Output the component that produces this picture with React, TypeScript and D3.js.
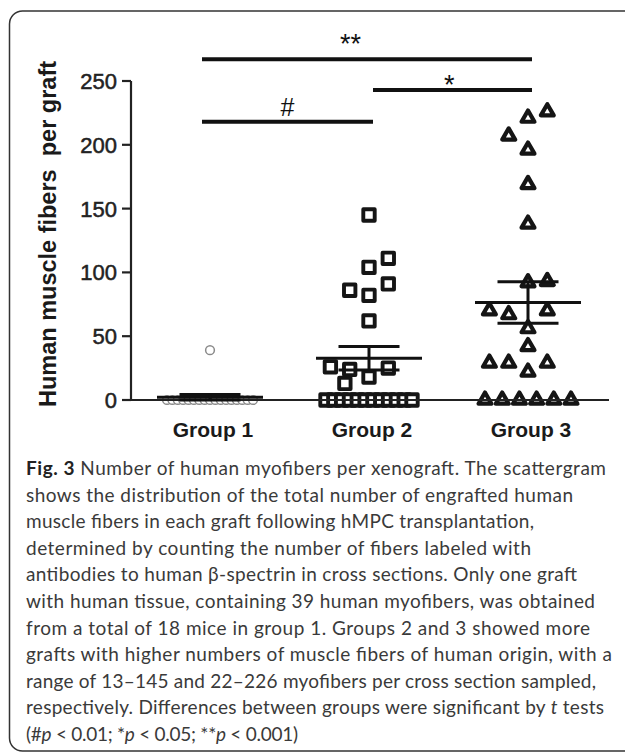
import React from 'react';
import * as d3 from 'd3';

const groups = ['Group 1', 'Group 2', 'Group 3'];
const yTicks = [0, 50, 100, 150, 200, 250];

// values per graft (zeros listed explicitly)
const group1Values = [39, 0, 0, 0, 0, 0, 0, 0, 0, 0, 0, 0, 0, 0, 0, 0, 0, 0];
const group2Values = [145, 111, 104, 91, 86, 82, 62, 26, 24, 25, 18, 13, 0, 0, 0, 0, 0, 0, 0, 0, 0, 0, 0, 0];
const group3Values = [226, 221, 207, 196, 169, 138, 92, 93, 70, 67, 70, 56, 42, 29, 29, 29, 22, 0, 0, 0, 0, 0, 0];

// jitter slot (column index in the scattergram) of each non-zero point
const group1Slots = [0];
const group2Slots = [0, 1, 0, 1, -1, 0, 0, -2, -1, 1, 0, -1.25];
const group3Slots = [1, 0, -1, 0, 0, 0, 0, 1, -2, -1, 1, 0, 0, -2, -1, 1, 0];

// significance brackets
const sigLabels = ['#', '*', '**'];
const sigFrom = [0, 1, 0];
const sigTo = [1, 2, 2];
const sigLevel = [218, 243, 267];
const sigLabelLevel = [230, 252, 284.5];
const sigLabelAt = [0.5, 0.48, 0.45];

const captionLines: { t: string; b?: boolean; i?: boolean }[][] = [
  [{ t: 'Fig. 3', b: true }, { t: ' Number of human myofibers per xenograft. The scattergram' }],
  [{ t: 'shows the distribution of the total number of engrafted human' }],
  [{ t: 'muscle fibers in each graft following hMPC transplantation,' }],
  [{ t: 'determined by counting the number of fibers labeled with' }],
  [{ t: 'antibodies to human \u03b2-spectrin in cross sections. Only one graft' }],
  [{ t: 'with human tissue, containing 39 human myofibers, was obtained' }],
  [{ t: 'from a total of 18 mice in group 1. Groups 2 and 3 showed more' }],
  [{ t: 'grafts with higher numbers of muscle fibers of human origin, with a' }],
  [{ t: 'range of 13\u2013145 and 22\u2013226 myofibers per cross section sampled,' }],
  [{ t: 'respectively. Differences between groups were significant by ' }, { t: 't', i: true }, { t: ' tests' }],
  [{ t: '(#' }, { t: 'p', i: true }, { t: ' < 0.01; *' }, { t: 'p', i: true }, { t: ' < 0.05; **' }, { t: 'p', i: true }, { t: ' < 0.001)' }],
];
const captionEnds = [606, 573, 534, 531, 577, 595, 590, 612, 596, 604, 298];

export default function App() {
  const W = 625;
  const H = 753;
  const x = d3.scalePoint<string>().domain(groups).range([210, 528]);
  const y = d3.scaleLinear().domain([0, 250]).range([400, 81]);
  const slot = d3.scaleLinear().domain([0, 1]).range([0, 19.3]);
  const zeroSpread = 86;
  const axisLeft = 131;
  const font = '"Liberation Sans", Arial, sans-serif';

  const series = [
    { name: groups[0], values: group1Values, slots: group1Slots, path: d3.symbol(d3.symbolCircle, 60)(), fill: '#fff', stroke: '#8a8a8a', sw: 1.5 },
    { name: groups[1], values: group2Values, slots: group2Slots, path: d3.symbol(d3.symbolSquare, 130)(), fill: '#fff', stroke: '#151515', sw: 3.9 },
    { name: groups[2], values: group3Values, slots: group3Slots, path: d3.symbol(d3.symbolTriangle, 72)(), fill: '#fff', stroke: '#151515', sw: 4.2 },
  ];

  return (
    <svg width={W} height={H} style={{ position: 'absolute', left: 0, top: 0, background: '#fff' }}>
      <rect x={9.5} y={11} width={660} height={740} rx={13} fill="none" stroke="#333" strokeWidth={1.5} />

      {/* y axis title */}
      <text
        transform={`translate(56,234) rotate(-90)`}
        textAnchor="middle"
        fontFamily={font}
        fontWeight="bold"
        fontSize={23.5}
        fill="#1a1a1a"
        style={{ whiteSpace: 'pre' }}
      >
        {'Human muscle fibers  per graft'}
      </text>

      {/* y axis */}
      <line x1={axisLeft} x2={axisLeft} y1={y(250)} y2={y(0)} stroke="#222" strokeWidth={2.2} />
      {yTicks.map((t) => (
        <g key={t}>
          <line x1={122} x2={axisLeft} y1={y(t)} y2={y(t)} stroke="#222" strokeWidth={2.2} />
          <text x={117} y={y(t)} dy="0.36em" textAnchor="end" fontFamily={font} fontSize={22} fill="#222" stroke="#222" strokeWidth={0.5}>
            {t}
          </text>
        </g>
      ))}

      {/* points */}
      {series.map((s) => {
        const cx = x(s.name)!;
        const nonzero = s.values.filter((v) => v !== 0);
        const nZero = s.values.length - nonzero.length;
        const zx = d3.scaleLinear().domain([0, Math.max(1, nZero - 1)]).range([-zeroSpread / 2, zeroSpread / 2]);
        return (
          <g key={s.name}>
            {d3.range(nZero).map((i) => (
              <path
                key={'z' + i}
                d={s.path!}
                transform={`translate(${cx + zx(i)},${y(0)})`}
                fill={s.fill}
                stroke={s.stroke}
                strokeWidth={s.sw}
                strokeLinejoin="round"
              />
            ))}
            {nonzero.map((v, i) => (
              <path
                key={'p' + i}
                d={s.path!}
                transform={`translate(${cx + slot(s.slots[i] ?? 0)},${y(v)})`}
                fill={s.fill}
                stroke={s.stroke}
                strokeWidth={s.sw}
                strokeLinejoin="round"
              />
            ))}
          </g>
        );
      })}

      {/* x baseline */}
      <line x1={122} x2={609} y1={y(0)} y2={y(0)} stroke="#222" strokeWidth={2.2} />

      {/* mean ± SEM */}
      {series.map((s) => {
        const cx = x(s.name)!;
        const m = d3.mean(s.values)!;
        const sem = d3.deviation(s.values)! / Math.sqrt(s.values.length);
        return (
          <g key={'m' + s.name} stroke="#111" strokeWidth={3}>
            <line x1={cx - 53} x2={cx + 53} y1={y(m)} y2={y(m)} />
            <line x1={cx - 30.5} x2={cx + 30.5} y1={y(m + sem)} y2={y(m + sem)} />
            <line x1={cx - 30.5} x2={cx + 30.5} y1={y(m - sem)} y2={y(m - sem)} />
            <line x1={cx} x2={cx} y1={y(m + sem)} y2={y(m - sem)} />
          </g>
        );
      })}

      {/* group labels */}
      {groups.map((g) => (
        <text key={g} x={x(g)! + 3} y={437} textAnchor="middle" fontFamily={font} fontWeight="bold" fontSize={21} fill="#1a1a1a">
          {g}
        </text>
      ))}

      {/* significance brackets */}
      {sigLabels.map((lab, i) => {
        const x1 = x(groups[sigFrom[i]])! + (sigFrom[i] === 0 ? -8 : 4);
        const x2 = x(groups[sigTo[i]])! + 4;
        const fs = lab === '#' ? 25 : 27;
        const raise = lab === '#' ? 0.36 : 0.58;
        return (
          <g key={'s' + i}>
            <line x1={x1} x2={x2} y1={y(sigLevel[i])} y2={y(sigLevel[i])} stroke="#111" strokeWidth={4} />
            <text
              x={x1 + (x2 - x1) * sigLabelAt[i]}
              y={y(sigLabelLevel[i]) + raise * fs}
              textAnchor="middle"
              fontFamily={font}
              fontSize={fs}
              fill="#111"
            >
              {lab}
            </text>
          </g>
        );
      })}

      {/* caption */}
      {captionLines.map((line, i) => (
        <text
          key={'c' + i}
          x={26}
          y={475 + 26.6 * i}
          fontFamily='Lato, "Open Sans", sans-serif'
          fontSize={19}
          fill="#3a3a3a"
          textLength={captionEnds[i] - 26}
          lengthAdjust="spacing"
          style={{ whiteSpace: 'pre' }}
        >
          {line.map((seg, j) => (
            <tspan key={j} fontWeight={seg.b ? 'bold' : 'normal'} fontStyle={seg.i ? 'italic' : 'normal'} fill={seg.b ? '#222' : undefined}>
              {seg.t}
            </tspan>
          ))}
        </text>
      ))}
    </svg>
  );
}
